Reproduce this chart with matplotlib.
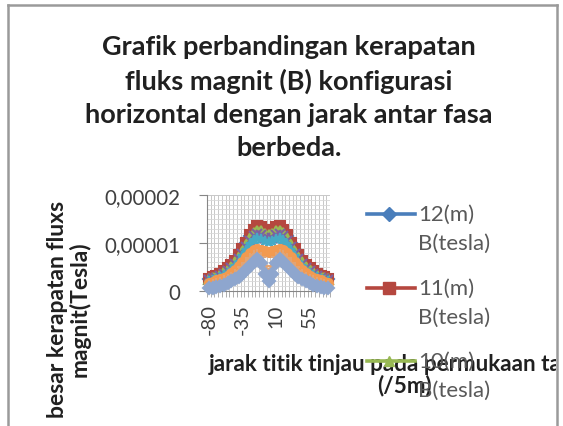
import numpy as np
import matplotlib
matplotlib.use("Agg")
import matplotlib.pyplot as plt
from matplotlib.lines import Line2D
from matplotlib.ticker import MultipleLocator, FixedLocator, FuncFormatter
from matplotlib.transforms import Bbox, TransformedBbox

plt.rcParams['font.family'] = ['Lato', 'DejaVu Sans']

# jarak titik tinjau (/5m)
jarak = list(range(-80, 85, 5))

# besar kerapatan fluks (x 1e-6 tesla)
b_12 = [2.5, 2.8, 3.1, 3.5, 4.0, 4.6, 5.3, 6.2, 7.3, 8.6, 10.0, 11.4, 12.5, 13.1, 13.0, 12.4, 12.1,
        12.4, 13.0, 13.1, 12.5, 11.4, 10.0, 8.6, 7.3, 6.2, 5.3, 4.6, 4.0, 3.5, 3.1, 2.8, 2.5]
b_11 = [2.6, 2.9, 3.2, 3.6, 4.1, 4.7, 5.4, 6.3, 7.4, 8.7, 10.1, 11.6, 12.8, 13.5, 13.4, 12.7, 12.4,
        12.7, 13.4, 13.5, 12.8, 11.6, 10.1, 8.7, 7.4, 6.3, 5.4, 4.7, 4.1, 3.6, 3.2, 2.9, 2.6]
b_10 = [2.4, 2.7, 3.0, 3.4, 3.9, 4.4, 5.1, 6.0, 7.0, 8.2, 9.6, 11.0, 12.0, 12.5, 12.4, 11.8, 11.6,
        11.8, 12.4, 12.5, 12.0, 11.0, 9.6, 8.2, 7.0, 6.0, 5.1, 4.4, 3.9, 3.4, 3.0, 2.7, 2.4]
b_9 = [2.2, 2.5, 2.8, 3.1, 3.6, 4.1, 4.8, 5.6, 6.6, 7.8, 9.1, 10.4, 11.4, 11.8, 11.6, 11.1, 10.9,
       11.1, 11.6, 11.8, 11.4, 10.4, 9.1, 7.8, 6.6, 5.6, 4.8, 4.1, 3.6, 3.1, 2.8, 2.5, 2.2]
b_8 = [2.0, 2.3, 2.6, 2.9, 3.3, 3.8, 4.4, 5.2, 6.1, 7.2, 8.5, 9.7, 10.6, 11.0, 10.9, 10.5, 10.3,
       10.5, 10.9, 11.0, 10.6, 9.7, 8.5, 7.2, 6.1, 5.2, 4.4, 3.8, 3.3, 2.9, 2.6, 2.3, 2.0]
b_7 = [1.7, 1.9, 2.2, 2.5, 2.8, 3.2, 3.7, 4.4, 5.2, 6.1, 7.1, 8.0, 8.6, 8.8, 8.6, 8.3, 8.2,
       8.3, 8.6, 8.8, 8.6, 8.0, 7.1, 6.1, 5.2, 4.4, 3.7, 3.2, 2.8, 2.5, 2.2, 1.9, 1.7]
b_6 = [1.3, 1.5, 1.7, 1.9, 2.2, 2.6, 3.0, 3.5, 4.2, 5.0, 5.9, 6.8, 7.5, 7.7, 7.0, 5.2, 3.8,
       5.2, 7.0, 7.7, 7.5, 6.8, 5.9, 5.0, 4.2, 3.5, 3.0, 2.6, 2.2, 1.9, 1.7, 1.5, 1.3]
b_5 = [0.6, 0.7, 0.9, 1.1, 1.3, 1.6, 2.0, 2.4, 3.0, 3.6, 4.4, 5.3, 6.1, 6.6, 5.8, 3.6, 2.0,
       3.6, 5.8, 6.6, 6.1, 5.3, 4.4, 3.6, 3.0, 2.4, 2.0, 1.6, 1.3, 1.1, 0.9, 0.7, 0.6]

nama = ['12(m)', '11(m)', '10(m)', '9(m)', '8(m)', '7(m)', '6(m)', '5(m)']
data = [b_12, b_11, b_10, b_9, b_8, b_7, b_6, b_5]
warna = ['#4A7EBB', '#B5473F', '#98B954', '#7D60A0', '#46AAC5', '#F29A50', '#E2A474', '#8EA6CE']
penanda = ['D', 's', '^', 'x', '*', 'o', '+', 'D']

fig = plt.figure(figsize=(5.63, 4.27), dpi=100)
W, H = 563, 427

def fx(px):
    return px / W

def fy(py):
    return 1 - py / H

ax = fig.add_axes([fx(207), fy(292), fx(330) - fx(207), fy(196) - fy(292)])

pos = np.arange(len(jarak))
for y, c, m in zip(data, warna, penanda):
    ax.plot(pos, np.array(y) * 1e-6, color=c, lw=2.6, marker=m, markersize=6.5,
            markerfacecolor=c, markeredgecolor=c, markeredgewidth=1.5, clip_on=False, zorder=3)

ax.set_xlim(-0.5, len(jarak) - 0.5)
ax.set_ylim(0, 0.00002)

# grid
ax.xaxis.set_minor_locator(FixedLocator(np.arange(len(jarak) + 1) - 0.5))
ax.xaxis.set_major_locator(FixedLocator(pos[::9]))
ax.xaxis.set_major_formatter(FuncFormatter(lambda v, p: str(jarak[int(round(v))])))
ax.yaxis.set_major_locator(MultipleLocator(0.00001))
ax.yaxis.set_minor_locator(MultipleLocator(0.000001))
ax.yaxis.set_major_formatter(FuncFormatter(lambda v, p: '0' if v == 0 else ('%.5f' % v).replace('.', ',')))
ax.grid(True, which='minor', axis='x', color='#C8C8C8', lw=0.7)
ax.grid(True, which='minor', axis='y', color='#D8D8D8', lw=0.6)
ax.grid(True, which='major', axis='y', color='#C8C8C8', lw=0.7)
ax.set_axisbelow(True)

for s in ['top', 'right']:
    ax.spines[s].set_visible(False)
ax.spines['left'].set_color('#868686')
ax.spines['bottom'].set_color('#868686')
ax.tick_params(axis='x', which='major', length=0, pad=9, labelsize=14.5, labelrotation=90, colors='#404040')
ax.tick_params(axis='x', which='minor', length=4, color='#A0A0A0')
ax.tick_params(axis='y', which='major', length=6, pad=13, labelsize=14.8, colors='#404040')
ax.tick_params(axis='y', which='major', color='#868686')
ax.tick_params(axis='y', which='minor', length=0)

# judul
fig.text(fx(289), fy(35), 'Grafik perbandingan kerapatan\nfluks magnit (B) konfigurasi\n'
         'horizontal dengan jarak antar fasa\nberbeda.',
         ha='center', va='top', fontsize=19.5, fontweight='bold', color='#202020', linespacing=1.45)

fig.text(fx(69), fy(309), 'besar kerapatan fluxs\nmagnit(Tesla)', rotation=90,
         ha='center', va='center', fontsize=16.5, fontweight='bold', color='#202020', linespacing=1.05)

xl = fig.text(fx(404), fy(375), 'jarak titik tinjau pada permukaan tanah\n(/5m)',
              ha='center', va='center', fontsize=16.2, fontweight='bold', color='#202020',
              linespacing=1.0, clip_on=True)
xl.set_clip_box(TransformedBbox(Bbox([[0, 0], [fx(556), 1]]), fig.transFigure))

# legenda (hanya tiga entri yang terlihat)
for i, yy in enumerate([215, 288.5, 362]):
    fig.add_artist(Line2D([fx(367), fx(415)], [fy(yy), fy(yy)], color=warna[i], lw=2.6, zorder=5))
    fig.add_artist(Line2D([fx(389)], [fy(yy)], color=warna[i], marker=penanda[i],
                          markersize=7.5 if i != 1 else 9, zorder=5))
    fig.text(fx(418), fy(yy), nama[i], ha='left', va='center', fontsize=16, color='#595959', zorder=6)
    fig.text(fx(418), fy(yy + 29), 'B(tesla)', ha='left', va='center', fontsize=16,
             color='#595959', zorder=6)

# bingkai
for seg in [([8, 557], [6, 6]), ([8, 8], [6, 427]), ([557, 557], [6, 427])]:
    fig.add_artist(Line2D([fx(v) for v in seg[0]], [fy(v) for v in seg[1]],
                          color='#9A9A9A', lw=1.8))

fig.savefig('out.png', dpi=100)
